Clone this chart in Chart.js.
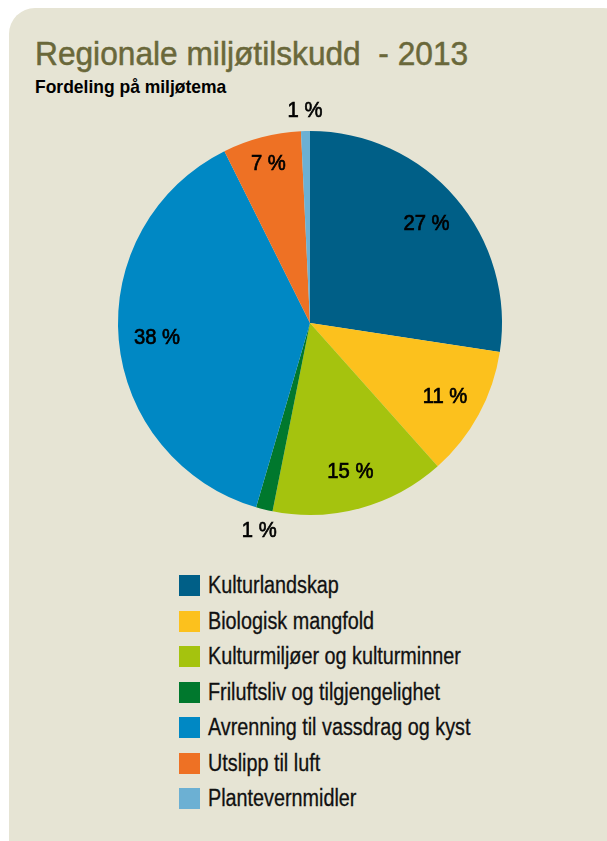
<!DOCTYPE html>
<html lang="no">
<head>
<meta charset="utf-8">
<title>Regionale miljøtilskudd - 2013</title>
<script src="https://cdn.jsdelivr.net/npm/chart.js@4.4.1/dist/chart.umd.min.js"></script>
<style>
  html, body { margin: 0; padding: 0; background: #ffffff; }
  body { width: 607px; height: 841px; position: relative; overflow: hidden;
         font-family: 'Liberation Sans', Arial, sans-serif; }
  #panel { position: absolute; left: 9px; top: 8px; width: 620px; height: 860px;
           background: #e6e4d4; border-radius: 26px; }
  #tittel { position: absolute; left: 35px; top: 37px; margin: 0; font-size: 33px; line-height: 33px;
            font-weight: normal; color: #6a683a; white-space: pre; -webkit-text-stroke: 0.5px #6a683a;
            transform: scaleX(0.96); transform-origin: left top; }
  #undertittel { position: absolute; left: 35px; top: 77.6px; margin: 0; font-size: 18.6px; line-height: 18.6px;
                 font-weight: bold; color: #000; white-space: pre;
                 transform: scaleX(0.94); transform-origin: left top; }
  #pizza_wrap { position: absolute; left: 80px; top: 93px; width: 460px; height: 460px; }
  #forklaring { position: absolute; left: 179px; top: 575px; margin: 0; padding: 0; list-style: none; }
  #forklaring li { height: 35.5px; position: relative; }
  #forklaring .boks { position: absolute; left: 0; top: 0; width: 21px; height: 21px; }
  #forklaring .tekst { position: absolute; left: 29px; top: 0; font-size: 23px; line-height: 21px; color: #111;
                       white-space: pre; -webkit-text-stroke: 0.3px #111;
                       transform: scaleX(0.86); transform-origin: left top; }
</style>
</head>
<body>
<div id="panel"></div>
<h1 id="tittel">Regionale miljøtilskudd  - 2013</h1>
<h2 id="undertittel">Fordeling på miljøtema</h2>
<div id="pizza_wrap"><canvas id="pizza_miljotema" width="460" height="460"></canvas></div>
<ul id="forklaring"></ul>

<script>
/* Fordeling av regionale miljøtilskudd på miljøtema, 2013 (andel i prosent) */

const miljotema = [
    'Kulturlandskap',
    'Biologisk mangfold',
    'Kulturmiljøer og kulturminner',
    'Friluftsliv og tilgjengelighet',
    'Avrenning til vassdrag og kyst',
    'Utslipp til luft',
    'Plantevernmidler'
];

const andel_prosent = [27.4, 11.0, 14.7, 1.4, 38.1, 6.6, 0.75];

const farger_tema = [
    'rgb(0, 95, 135)',
    'rgb(252, 193, 29)',
    'rgb(165, 195, 14)',
    'rgb(0, 120, 45)',
    'rgb(0, 136, 196)',
    'rgb(238, 113, 36)',
    'rgb(108, 176, 211)'
];

const etikettFont = "22px 'Liberation Sans', Arial, sans-serif";

// skriver prosentene i eller utenfor hvert kakestykke (smal skrift)
const prosent_etiketter = {
    id: 'prosent_etiketter',
    afterDatasetsDraw(chart) {
        const ctx = chart.ctx;
        const meta = chart.getDatasetMeta(0);
        const verdier = chart.data.datasets[0].data;
        ctx.save();
        ctx.font = etikettFont;
        ctx.fillStyle = '#000';
        ctx.strokeStyle = '#000';
        ctx.lineWidth = 0.7;
        ctx.textAlign = 'center';
        ctx.textBaseline = 'middle';
        meta.data.forEach(function (arc, i) {
            const p = arc.getProps(['x', 'y', 'startAngle', 'endAngle', 'outerRadius'], true);
            const midt = (p.startAngle + p.endAngle) / 2;
            const v = verdier[i];
            let r;
            if (v < 3) r = p.outerRadius + 21;
            else if (v < 10) r = p.outerRadius * 0.86;
            else r = p.outerRadius * 0.8;
            const x = p.x + Math.cos(midt) * r;
            const y = p.y + Math.sin(midt) * r;
            const tekst = Math.round(v) + ' %';
            ctx.save();
            ctx.translate(x, y + 1);
            ctx.scale(0.92, 1);
            ctx.fillText(tekst, 0, 0);
            ctx.strokeText(tekst, 0, 0);
            ctx.restore();
        });
        ctx.restore();
    }
};

const data_pizza_miljotema = {
    labels: miljotema,
    datasets: [{
        label: 'Andel av tilskudd',
        data: andel_prosent,
        backgroundColor: farger_tema,
        borderWidth: 0
    }]
};

const config_pizza_miljotema = {
    type: 'pie',
    data: data_pizza_miljotema,
    options: {
        responsive: false,
        animation: false,
        layout: { padding: 38 },
        plugins: {
            legend: { display: false },
            tooltip: { enabled: false }
        }
    },
    plugins: [prosent_etiketter]
};

const grafico_pizza_miljotema = new Chart(
    document.getElementById('pizza_miljotema'),
    config_pizza_miljotema
);

// egen forklaring under kaka, bygget fra diagrammets data
const liste = document.getElementById('forklaring');
miljotema.forEach(function (navn, i) {
    const li = document.createElement('li');
    const boks = document.createElement('span');
    boks.className = 'boks';
    boks.style.background = farger_tema[i];
    const tekst = document.createElement('span');
    tekst.className = 'tekst';
    tekst.textContent = navn;
    li.appendChild(boks);
    li.appendChild(tekst);
    liste.appendChild(li);
});
</script>
</body>
</html>
